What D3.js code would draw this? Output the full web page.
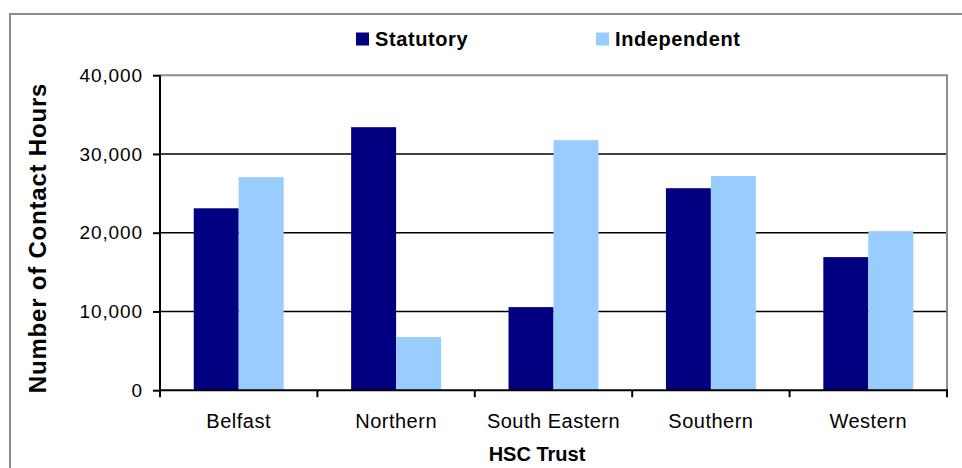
<!DOCTYPE html>
<html>
<head>
<meta charset="utf-8">
<script src="https://cdn.jsdelivr.net/npm/d3@7"></script>
<style>
  body { margin: 0; background: #fff; }
  text { font-family: "Liberation Sans", Arial, sans-serif; }
</style>
</head>
<body>
<script>
// chart data
const trusts = ["Belfast", "Northern", "South Eastern", "Southern", "Western"];
const seriesNames = ["Statutory", "Independent"];
const statutory = [23100, 33400, 10550, 25650, 16900];
const independent = [27050, 6750, 31750, 27200, 20200];
const yTicks = [0, 10000, 20000, 30000, 40000];
const colors = ["#000080", "#99ccff"];

const W = 962, H = 468;
const plotLeft = 160, plotRight = 947, plotTop = 75.2, plotBottom = 390.2;

const svg = d3.select("body").append("svg")
    .attr("width", W)
    .attr("height", H);

// outer chart border
svg.append("rect")
    .attr("x", 10).attr("y", 14)
    .attr("width", W).attr("height", H)
    .attr("fill", "none")
    .attr("stroke", "#8c8c8c")
    .attr("stroke-width", 2);

let x = d3.scaleBand().domain(trusts).range([plotLeft, plotRight]);
let xs = d3.scaleBand().domain(seriesNames)
    .range([0, x.bandwidth()])
    .paddingInner(0).paddingOuter(0.75);
let y = d3.scaleLinear().domain([0, 40000]).range([plotBottom, plotTop]);

// gridlines
svg.append("g")
    .selectAll("line")
    .data(yTicks.filter(d => d > 0 && d < 40000))
    .join("line")
    .attr("x1", plotLeft).attr("x2", plotRight)
    .attr("y1", d => y(d)).attr("y2", d => y(d))
    .attr("stroke", "#000")
    .attr("stroke-width", 1.6);

// plot area border (top/right)
svg.append("path")
    .attr("d", `M${plotLeft},${y(40000)}H${plotRight}V${plotBottom}`)
    .attr("fill", "none")
    .attr("stroke", "#8c8c8c")
    .attr("stroke-width", 2);

// bars
const rows = trusts.map((t, i) => ({ trust: t, values: [statutory[i], independent[i]] }));
svg.append("g")
    .selectAll("g")
    .data(rows)
    .join("g")
    .attr("transform", d => "translate(" + x(d.trust) + ",0)")
    .selectAll("rect")
    .data(d => d.values.map((v, j) => ({ key: seriesNames[j], value: v, j: j })))
    .join("rect")
    .attr("x", d => xs(d.key))
    .attr("width", xs.bandwidth())
    .attr("y", d => y(d.value))
    .attr("height", d => y(0) - y(d.value))
    .attr("fill", d => colors[d.j]);

// y axis
let yAxis = d3.axisLeft(y)
    .tickValues(yTicks)
    .tickSize(7)
    .tickPadding(10)
    .tickFormat(d3.format(","));
let gy = svg.append("g")
    .attr("transform", "translate(" + plotLeft + ",0)")
    .call(yAxis);
gy.select(".domain").attr("stroke", "#000").attr("stroke-width", 2)
    .attr("d", `M0,${plotTop}V${plotBottom}`);
gy.selectAll(".tick line").attr("stroke", "#000").attr("stroke-width", 2);
gy.selectAll(".tick text")
    .style("font-size", "19px")
    .style("letter-spacing", "0.9px")
    .attr("fill", "#000");

// x axis with ticks between categories
let xEdges = trusts.map(t => x(t)).concat([plotRight]);
let gx = svg.append("g");
gx.append("line")
    .attr("x1", plotLeft - 1).attr("x2", plotRight + 1)
    .attr("y1", plotBottom).attr("y2", plotBottom)
    .attr("stroke", "#000").attr("stroke-width", 2);
gx.selectAll(".xt")
    .data(xEdges)
    .join("line")
    .attr("class", "xt")
    .attr("x1", d => d).attr("x2", d => d)
    .attr("y1", plotBottom).attr("y2", plotBottom + 7)
    .attr("stroke", "#000").attr("stroke-width", 2);
gx.selectAll(".xl")
    .data(trusts)
    .join("text")
    .attr("class", "xl")
    .attr("x", d => x(d) + x.bandwidth() / 2)
    .attr("y", 428.3)
    .attr("text-anchor", "middle")
    .style("font-size", "20px")
    .style("letter-spacing", "0.5px")
    .text(d => d);

// axis titles
svg.append("text")
    .attr("x", 537)
    .attr("y", 461)
    .attr("text-anchor", "middle")
    .style("font-size", "20px")
    .style("font-weight", "bold")
    .text("HSC Trust");

svg.append("text")
    .attr("transform", "translate(46,238) rotate(-90)")
    .attr("text-anchor", "middle")
    .style("font-size", "24px")
    .style("font-weight", "bold")
    .style("letter-spacing", "0.8px")
    .text("Number of Contact Hours");

// legend
const legendX = [356, 596];
let lg = svg.append("g")
    .selectAll("g")
    .data(seriesNames)
    .join("g")
    .attr("transform", (d, i) => "translate(" + legendX[i] + ",32.5)");
lg.append("rect")
    .attr("width", 13).attr("height", 13)
    .attr("fill", (d, i) => colors[i]);
lg.append("text")
    .attr("x", 19)
    .attr("y", 13.2)
    .style("font-size", "20px")
    .style("font-weight", "bold")
    .style("letter-spacing", "0.6px")
    .text(d => d);
</script>
</body>
</html>
